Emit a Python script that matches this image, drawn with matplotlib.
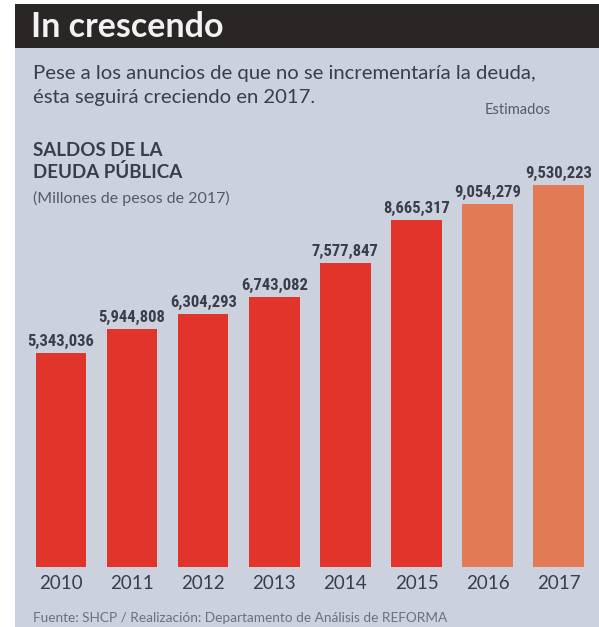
import matplotlib
matplotlib.use("Agg")
import matplotlib.pyplot as plt
from matplotlib import font_manager
from matplotlib.patches import Rectangle

years = ["2010", "2011", "2012", "2013", "2014", "2015", "2016", "2017"]
saldos = [5343036, 5944808, 6304293, 6743082, 7577847, 8665317, 9054279, 9530223]
estimado = [False, False, False, False, False, False, True, True]

title = "In crescendo"
subtitle = ["Pese a los anuncios de que no se incrementaría la deuda,",
            "ésta seguirá creciendo en 2017."]
heading = ["SALDOS DE LA", "DEUDA PÚBLICA"]
units = "(Millones de pesos de 2017)"
estimados_label = "Estimados"
source = "Fuente: SHCP / Realización: Departamento de Análisis de REFORMA"

BG = "#ccd2dd"
HEADER = "#2a2626"
RED = "#e1352b"
ORANGE = "#e27a55"
TEXT = "#3b3d4a"
SOFT = "#555a6b"

# pick a narrow face for the numbers if one is installed
names = {f.name for f in font_manager.fontManager.ttflist}
narrow = None
for cand in ["Liberation Sans Narrow", "DejaVu Sans Condensed", "Roboto Condensed", "Open Sans Condensed"]:
    if cand in names:
        narrow = cand
        break

W, H = 599, 627
fig = plt.figure(figsize=(W / 100, H / 100), dpi=100)
fig.patch.set_facecolor("white")

def fx(px):
    return px / W

def fy(py):
    return 1 - py / H

# panel and header band
fig.add_artist(Rectangle((fx(15), fy(627)), fx(599) - fx(15), fy(4) - fy(627),
                         transform=fig.transFigure, facecolor=BG, edgecolor="none", zorder=0))
fig.add_artist(Rectangle((fx(15), fy(48)), fx(599) - fx(15), fy(4) - fy(48),
                         transform=fig.transFigure, facecolor=HEADER, edgecolor="none", zorder=1))

fig.text(fx(31), fy(27), title, color="#f2f2f2", fontsize=24.5, fontweight="bold",
         family="Lato", va="center", ha="left")
fig.text(fx(33), fy(73), subtitle[0], color=TEXT, fontsize=14.6, family="Lato",
         va="center", ha="left")
fig.text(fx(33), fy(97), subtitle[1], color=TEXT, fontsize=14.6, family="Lato",
         va="center", ha="left")
fig.text(fx(518), fy(110), estimados_label, color=SOFT, fontsize=10.5, family="Lato",
         va="center", ha="center")
fig.text(fx(33), fy(150), heading[0], color=TEXT, fontsize=13.5, fontweight="bold",
         family="Lato", va="center", ha="left")
fig.text(fx(33), fy(172), heading[1], color=TEXT, fontsize=13.5, fontweight="bold",
         family="Lato", va="center", ha="left")
fig.text(fx(33), fy(198), units, color=SOFT, fontsize=11.5, family="Lato",
         va="center", ha="left")
fig.text(fx(33), fy(618), source, color="#6a6f82", fontsize=9.8, family="Lato",
         va="center", ha="left")

# bar chart
ax_left, ax_right = 15, 599
ax_bottom, ax_top = 567, 150
ax = fig.add_axes([fx(ax_left), fy(ax_bottom), fx(ax_right) - fx(ax_left), fy(ax_top) - fy(ax_bottom)])
ax.set_facecolor("none")
step = 71.1
c0 = 61
ax.set_xlim((ax_left - c0) / step, (ax_right - c0) / step)
px_per_unit = 382 / 9530223
ax.set_ylim(0, (ax_bottom - ax_top) / px_per_unit)

xs = list(range(len(years)))
colors = [ORANGE if e else RED for e in estimado]
ax.bar(xs, saldos, width=0.71, color=colors, edgecolor="none")

num_font = dict(family=narrow, fontsize=12) if narrow else dict(family="Lato", fontsize=9.5)
for x, v in zip(xs, saldos):
    ax.annotate(f"{v:,}", (x, v), xytext=(0, 3), textcoords="offset points",
                ha="center", va="bottom", color=TEXT, fontweight="bold", **num_font)

ax.set_xticks(xs)
ax.set_xticklabels(years, color=TEXT, fontsize=13.5, family="Lato")
ax.tick_params(axis="x", length=0, pad=6)
ax.set_yticks([])
for s in ax.spines.values():
    s.set_visible(False)

fig.savefig("out.png", dpi=100, facecolor="white")
